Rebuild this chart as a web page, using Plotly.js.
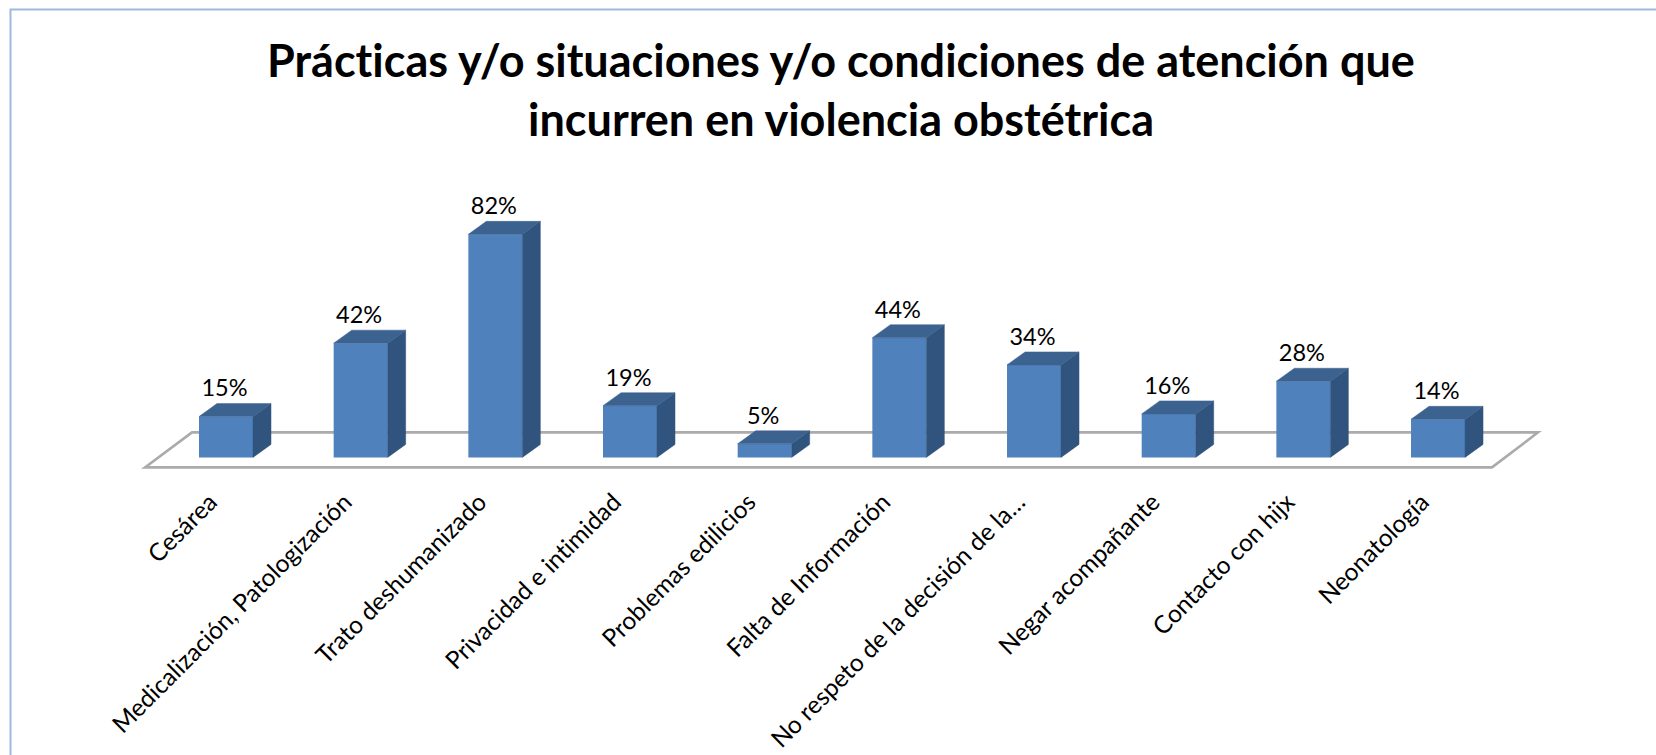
<!DOCTYPE html>
<html><head><meta charset="utf-8">
<script src="https://cdn.plot.ly/plotly-3.0.1.min.js"></script>
<style>html,body{margin:0;padding:0;background:#fff}#c{width:1656px;height:755px}#c text{font-variant-ligatures:none;font-feature-settings:"liga" 0}</style>
</head><body><div id="c"></div>
<script>
const categories = ["Cesárea","Medicalización, Patologización","Trato deshumanizado","Privacidad e intimidad","Problemas edilicios","Falta de Información","No respeto de la decisión de la…","Negar acompañante","Contacto con hijx","Neonatología"];
const values = [15,42,82,19,5,44,34,16,28,14];
const titleText = "Prácticas y/o situaciones y/o condiciones de atención que<br>incurren en violencia obstétrica";

const W=1656,H=755;
const pxX=134.67, pxY=2.72;          // px per category, px per percent
const x0px=226, y0px=457.4;          // pixel of first category, zero line
const xRange=[-1,10], yRange=[-5,100];
const left=x0px-pxX*(0-xRange[0]), right=x0px+pxX*(xRange[1]);
const top_=y0px-pxY*yRange[1], bot=y0px-pxY*yRange[0];
const barW=54/pxX, dX=18/pxX, dY=13/pxY;

const sideX=[],sideY=[],topX=[],topY=[];
categories.forEach((c,i)=>{
  const r=i+barW/2,l=i-barW/2,v=values[i];
  sideX.push(r,r+dX,r+dX,r,r,null); sideY.push(0,dY,v+dY,v,0,null);
  topX.push(l,l+dX,r+dX,r,l,null); topY.push(v,v+dY,v+dY,v,v,null);
});
const fy=-10/pxY, by=25/pxY;
const fx=p=>(p-x0px+0.0)/pxX+(x0px-226)/pxX;
const floorPath=`M${fx(145)},${fy} L${fx(1492)},${fy} L${fx(1538)},${by} L${fx(192)},${by} Z`;

const traces=[
 {type:'bar',x:categories.map((c,i)=>i),y:values,width:barW,marker:{color:'#4F81BD',line:{width:0}},hoverinfo:'skip',showlegend:false},
 {type:'scatter',mode:'lines',x:sideX,y:sideY,fill:'toself',fillcolor:'#31547E',line:{color:'#31547E',width:0.5},hoverinfo:'skip',showlegend:false},
 {type:'scatter',mode:'lines',x:topX,y:topY,fill:'toself',fillcolor:'#3C6290',line:{color:'#3C6290',width:0.5},hoverinfo:'skip',showlegend:false},
 {type:'scatter',mode:'text',x:categories.map((c,i)=>i-1.5/pxX),y:values.map(v=>v+26/pxY),text:values.map(v=>v+'%'),
  textposition:'middle center',textfont:{family:'Lato, sans-serif',size:23.5,color:'#000'},hoverinfo:'skip',showlegend:false,cliponaxis:false}
];
const layout={
 width:W,height:H,paper_bgcolor:'#fff',plot_bgcolor:'rgba(0,0,0,0)',showlegend:false,
 margin:{l:0,r:0,t:0,b:0,autoexpand:false},
 title:{text:titleText,x:841/W,xref:'paper',xanchor:'center',y:1-77/H,yref:'paper',yanchor:'middle',
   font:{family:'Lato, sans-serif',size:45,color:'#000',weight:700}},
 xaxis:{domain:[left/W,right/W],range:xRange,tickmode:'array',tickvals:categories.map((c,i)=>i),ticktext:categories,
   tickangle:-45,showgrid:false,zeroline:false,showline:false,ticks:'outside',ticklen:6,tickcolor:'rgba(0,0,0,0)',ticklabelshift:-16,
   tickfont:{family:'Lato, sans-serif',size:24.5,color:'#000'},automargin:false},
 yaxis:{domain:[1-bot/H,1-top_/H],range:yRange,visible:false,showgrid:false,zeroline:false},
 shapes:[
  {type:'path',path:floorPath,xref:'x',yref:'y',layer:'below',line:{color:'#ABABAB',width:2.6},fillcolor:'rgba(0,0,0,0)'},
  {type:'rect',xref:'paper',yref:'paper',x0:10.5/W,x1:1700/W,y0:-0.1,y1:1-9.5/H,line:{color:'#9DB9DC',width:2},fillcolor:'rgba(0,0,0,0)'}]
};
Plotly.newPlot('c',traces,layout,{displayModeBar:false,staticPlot:true});
</script></body></html>
